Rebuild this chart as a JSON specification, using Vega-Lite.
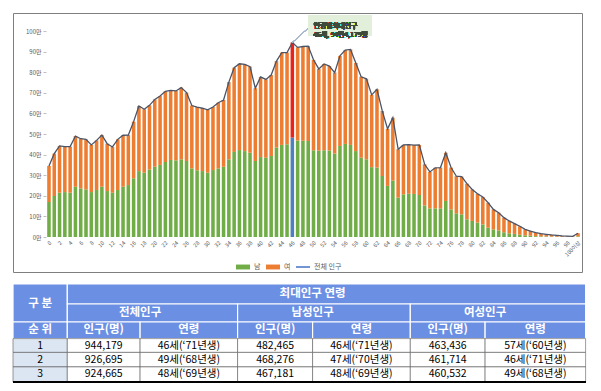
{
  "$schema": "https://vega.github.io/schema/vega-lite/v6.json",
  "background": "white",
  "padding": {"left": 12, "top": 12, "right": 0, "bottom": 0},
  "config": {"font": "Noto Sans CJK KR"},
  "bounds": "flush",
  "spacing": 12,
  "vconcat": [
    {
      "width": 569,
      "height": 259,
      "view": {"stroke": "#7f7f7f", "strokeWidth": 1},
      "data": {"values": [
        {"age":0,"sex":"남","pop":170000},{"age":0,"sex":"여","pop":175000},
        {"age":1,"sex":"남","pop":199000},{"age":1,"sex":"여","pop":206000},
        {"age":2,"sex":"남","pop":215000},{"age":2,"sex":"여","pop":227000},
        {"age":3,"sex":"남","pop":218000},{"age":3,"sex":"여","pop":221000},
        {"age":4,"sex":"남","pop":215000},{"age":4,"sex":"여","pop":224000},
        {"age":5,"sex":"남","pop":244000},{"age":5,"sex":"여","pop":246000},
        {"age":6,"sex":"남","pop":236000},{"age":6,"sex":"여","pop":241000},
        {"age":7,"sex":"남","pop":231000},{"age":7,"sex":"여","pop":243000},
        {"age":8,"sex":"남","pop":218000},{"age":8,"sex":"여","pop":229000},
        {"age":9,"sex":"남","pop":228000},{"age":9,"sex":"여","pop":241000},
        {"age":10,"sex":"남","pop":244000},{"age":10,"sex":"여","pop":251000},
        {"age":11,"sex":"남","pop":223000},{"age":11,"sex":"여","pop":230000},
        {"age":12,"sex":"남","pop":215000},{"age":12,"sex":"여","pop":222000},
        {"age":13,"sex":"남","pop":228000},{"age":13,"sex":"여","pop":246000},
        {"age":14,"sex":"남","pop":244000},{"age":14,"sex":"여","pop":250000},
        {"age":15,"sex":"남","pop":252000},{"age":15,"sex":"여","pop":243000},
        {"age":16,"sex":"남","pop":285000},{"age":16,"sex":"여","pop":275000},
        {"age":17,"sex":"남","pop":320000},{"age":17,"sex":"여","pop":316000},
        {"age":18,"sex":"남","pop":312000},{"age":18,"sex":"여","pop":308000},
        {"age":19,"sex":"남","pop":328000},{"age":19,"sex":"여","pop":311000},
        {"age":20,"sex":"남","pop":341000},{"age":20,"sex":"여","pop":327000},
        {"age":21,"sex":"남","pop":350000},{"age":21,"sex":"여","pop":334000},
        {"age":22,"sex":"남","pop":364000},{"age":22,"sex":"여","pop":343000},
        {"age":23,"sex":"남","pop":374000},{"age":23,"sex":"여","pop":338000},
        {"age":24,"sex":"남","pop":372000},{"age":24,"sex":"여","pop":337000},
        {"age":25,"sex":"남","pop":377000},{"age":25,"sex":"여","pop":348000},
        {"age":26,"sex":"남","pop":369000},{"age":26,"sex":"여","pop":332000},
        {"age":27,"sex":"남","pop":333000},{"age":27,"sex":"여","pop":305000},
        {"age":28,"sex":"남","pop":324000},{"age":28,"sex":"여","pop":307000},
        {"age":29,"sex":"남","pop":320000},{"age":29,"sex":"여","pop":305000},
        {"age":30,"sex":"남","pop":312000},{"age":30,"sex":"여","pop":305000},
        {"age":31,"sex":"남","pop":325000},{"age":31,"sex":"여","pop":306000},
        {"age":32,"sex":"남","pop":333000},{"age":32,"sex":"여","pop":319000},
        {"age":33,"sex":"남","pop":341000},{"age":33,"sex":"여","pop":324000},
        {"age":34,"sex":"남","pop":377000},{"age":34,"sex":"여","pop":375000},
        {"age":35,"sex":"남","pop":413000},{"age":35,"sex":"여","pop":409000},
        {"age":36,"sex":"남","pop":422000},{"age":36,"sex":"여","pop":419000},
        {"age":37,"sex":"남","pop":417000},{"age":37,"sex":"여","pop":421000},
        {"age":38,"sex":"남","pop":409000},{"age":38,"sex":"여","pop":418000},
        {"age":39,"sex":"남","pop":369000},{"age":39,"sex":"여","pop":353000},
        {"age":40,"sex":"남","pop":388000},{"age":40,"sex":"여","pop":389000},
        {"age":41,"sex":"남","pop":385000},{"age":41,"sex":"여","pop":380000},
        {"age":42,"sex":"남","pop":393000},{"age":42,"sex":"여","pop":393000},
        {"age":43,"sex":"남","pop":434000},{"age":43,"sex":"여","pop":420000},
        {"age":44,"sex":"남","pop":447000},{"age":44,"sex":"여","pop":448000},
        {"age":45,"sex":"남","pop":450000},{"age":45,"sex":"여","pop":445000},
        {"age":46,"sex":"남","pop":482465},{"age":46,"sex":"여","pop":461714},
        {"age":47,"sex":"남","pop":468276},{"age":47,"sex":"여","pop":452224},
        {"age":48,"sex":"남","pop":467181},{"age":48,"sex":"여","pop":457484},
        {"age":49,"sex":"남","pop":466163},{"age":49,"sex":"여","pop":460532},
        {"age":50,"sex":"남","pop":421000},{"age":50,"sex":"여","pop":439000},
        {"age":51,"sex":"남","pop":419000},{"age":51,"sex":"여","pop":397000},
        {"age":52,"sex":"남","pop":421000},{"age":52,"sex":"여","pop":419000},
        {"age":53,"sex":"남","pop":420000},{"age":53,"sex":"여","pop":410000},
        {"age":54,"sex":"남","pop":405000},{"age":54,"sex":"여","pop":393000},
        {"age":55,"sex":"남","pop":442000},{"age":55,"sex":"여","pop":437000},
        {"age":56,"sex":"남","pop":452000},{"age":56,"sex":"여","pop":455000},
        {"age":57,"sex":"남","pop":447000},{"age":57,"sex":"여","pop":463436},
        {"age":58,"sex":"남","pop":417000},{"age":58,"sex":"여","pop":428000},
        {"age":59,"sex":"남","pop":385000},{"age":59,"sex":"여","pop":393000},
        {"age":60,"sex":"남","pop":377000},{"age":60,"sex":"여","pop":391000},
        {"age":61,"sex":"남","pop":339000},{"age":61,"sex":"여","pop":351000},
        {"age":62,"sex":"남","pop":337000},{"age":62,"sex":"여","pop":380000},
        {"age":63,"sex":"남","pop":296000},{"age":63,"sex":"여","pop":316000},
        {"age":64,"sex":"남","pop":248000},{"age":64,"sex":"여","pop":277000},
        {"age":65,"sex":"남","pop":274000},{"age":65,"sex":"여","pop":305000},
        {"age":66,"sex":"남","pop":191000},{"age":66,"sex":"여","pop":235000},
        {"age":67,"sex":"남","pop":207000},{"age":67,"sex":"여","pop":240000},
        {"age":68,"sex":"남","pop":210000},{"age":68,"sex":"여","pop":238000},
        {"age":69,"sex":"남","pop":209000},{"age":69,"sex":"여","pop":237000},
        {"age":70,"sex":"남","pop":204000},{"age":70,"sex":"여","pop":243000},
        {"age":71,"sex":"남","pop":153000},{"age":71,"sex":"여","pop":200000},
        {"age":72,"sex":"남","pop":139000},{"age":72,"sex":"여","pop":177000},
        {"age":73,"sex":"남","pop":139000},{"age":73,"sex":"여","pop":197000},
        {"age":74,"sex":"남","pop":139000},{"age":74,"sex":"여","pop":198000},
        {"age":75,"sex":"남","pop":175000},{"age":75,"sex":"여","pop":234000},
        {"age":76,"sex":"남","pop":134000},{"age":76,"sex":"여","pop":203000},
        {"age":77,"sex":"남","pop":115000},{"age":77,"sex":"여","pop":180000},
        {"age":78,"sex":"남","pop":110000},{"age":78,"sex":"여","pop":183000},
        {"age":79,"sex":"남","pop":86000},{"age":79,"sex":"여","pop":173000},
        {"age":80,"sex":"남","pop":78000},{"age":80,"sex":"여","pop":153000},
        {"age":81,"sex":"남","pop":70000},{"age":81,"sex":"여","pop":140000},
        {"age":82,"sex":"남","pop":61000},{"age":82,"sex":"여","pop":133000},
        {"age":83,"sex":"남","pop":45000},{"age":83,"sex":"여","pop":122000},
        {"age":84,"sex":"남","pop":37000},{"age":84,"sex":"여","pop":97000},
        {"age":85,"sex":"남","pop":32000},{"age":85,"sex":"여","pop":86000},
        {"age":86,"sex":"남","pop":23000},{"age":86,"sex":"여","pop":71000},
        {"age":87,"sex":"남","pop":18000},{"age":87,"sex":"여","pop":60000},
        {"age":88,"sex":"남","pop":15000},{"age":88,"sex":"여","pop":50000},
        {"age":89,"sex":"남","pop":11000},{"age":89,"sex":"여","pop":41000},
        {"age":90,"sex":"남","pop":8000},{"age":90,"sex":"여","pop":29000},
        {"age":91,"sex":"남","pop":6000},{"age":91,"sex":"여","pop":23000},
        {"age":92,"sex":"남","pop":4000},{"age":92,"sex":"여","pop":17000},
        {"age":93,"sex":"남","pop":3000},{"age":93,"sex":"여","pop":13000},
        {"age":94,"sex":"남","pop":2500},{"age":94,"sex":"여","pop":10500},
        {"age":95,"sex":"남","pop":2000},{"age":95,"sex":"여","pop":8000},
        {"age":96,"sex":"남","pop":1500},{"age":96,"sex":"여","pop":6500},
        {"age":97,"sex":"남","pop":1000},{"age":97,"sex":"여","pop":4000},
        {"age":98,"sex":"남","pop":800},{"age":98,"sex":"여","pop":3200},
        {"age":99,"sex":"남","pop":600},{"age":99,"sex":"여","pop":2400},
        {"age":100,"sex":"남","pop":3000},{"age":100,"sex":"여","pop":15000}
      ]},
      "layer": [
        {
          "mark": {"type": "bar"},
          "encoding": {
            "x": {
              "field": "age", "type": "ordinal",
              "scale": {"paddingInner": 0.33, "paddingOuter": 0, "align": 0.5, "range": [34.2, 566.8]},
              "axis": {
                "title": null, "orient": "bottom", "offset": -35,
                "values": [0,2,4,6,8,10,12,14,16,18,20,22,24,26,28,30,32,34,36,38,40,42,44,46,48,50,52,54,56,58,60,62,64,66,68,70,72,74,76,78,80,82,84,86,88,90,92,94,96,98,100],
                "labelExpr": "datum.value == 100 ? '100이상' : datum.label",
                "labelAngle": -45, "labelFontSize": 5.5, "labelColor": "#595959",
                "labelPadding": 3, "labelOverlap": false, "domain": false, "ticks": false, "grid": false
              }
            },
            "y": {
              "field": "pop", "type": "quantitative", "stack": "zero",
              "scale": {"domain": [-169903, 1087379], "nice": false, "zero": false},
              "axis": {
                "title": null, "offset": -33,
                "values": [0,100000,200000,300000,400000,500000,600000,700000,800000,900000,1000000],
                "labelExpr": "(datum.value / 10000) + '만'",
                "labelFontSize": 6, "labelColor": "#595959", "labelPadding": 2, "labelOverlap": false,
                "domain": false, "ticks": true, "tickColor": "#bfbfbf", "tickSize": 3, "grid": false
              }
            },
            "order": {"field": "sex", "type": "nominal", "sort": "ascending"},
            "color": {
              "field": "sex", "type": "nominal",
              "scale": {"domain": ["남", "여", "전체 인구"], "range": ["#70ad47", "#ed7d31", "#4472c4"]},
              "condition": [
                {"test": "datum.age === 46 && datum.sex === '남'", "value": "#4f7fbd"},
                {"test": "datum.age === 46 && datum.sex === '여'", "value": "#e8231b"}
              ],
              "legend": {
                "title": null, "orient": "none", "legendX": 222, "legendY": 246,
                "direction": "horizontal", "gridAlign": "none", "labelFontSize": 7, "labelColor": "#595959",
                "symbolSize": 196, "columnPadding": 2, "labelOffset": 3,
                "encode": {
                  "symbols": {
                    "update": {
                      "shape": {"signal": "datum.label === '전체 인구' ? 'M-1,0H1' : 'M-1,-0.35H1V0.35H-1Z'"},
                      "fill": {"signal": "datum.label === '남' ? '#70ad47' : datum.label === '여' ? '#ed7d31' : 'transparent'"},
                      "stroke": {"signal": "datum.label === '전체 인구' ? '#4472c4' : 'transparent'"},
                      "strokeWidth": {"value": 1.5},
                      "opacity": {"value": 1}
                    }
                  }
                }
              }
            }
          }
        },
        {
          "transform": [{"aggregate": [{"op": "sum", "field": "pop", "as": "total"}], "groupby": ["age"]}],
          "mark": {"type": "line", "color": "#4a5466", "strokeWidth": 1.3},
          "encoding": {
            "x": {"field": "age", "type": "ordinal"},
            "y": {
              "field": "total", "type": "quantitative",
              "axis": {
                "title": null, "offset": -33,
                "values": [0,100000,200000,300000,400000,500000,600000,700000,800000,900000,1000000],
                "labelExpr": "(datum.value / 10000) + '만'",
                "labelFontSize": 6, "labelColor": "#595959", "labelPadding": 2, "labelOverlap": false,
                "domain": false, "ticks": true, "tickColor": "#bfbfbf", "tickSize": 3, "grid": false
              }
            }
          }
        },
        {
          "mark": {"type": "rule", "color": "#a9b8cc", "strokeWidth": 0.7},
          "encoding": {
            "x": {"datum": 46, "type": "ordinal"},
            "y": {"datum": 944179, "type": "quantitative", "axis": {
                "title": null, "offset": -33,
                "values": [0,100000,200000,300000,400000,500000,600000,700000,800000,900000,1000000],
                "labelExpr": "(datum.value / 10000) + '만'",
                "labelFontSize": 6, "labelColor": "#595959", "labelPadding": 2, "labelOverlap": false,
                "domain": false, "ticks": true, "tickColor": "#bfbfbf", "tickSize": 3, "grid": false
              }},
            "x2": {"datum": 49},
            "y2": {"datum": 1014000}
          }
        },
        {
          "mark": {"type": "rect", "fill": "#e2efda"},
          "encoding": {
            "x": {"datum": 49, "type": "ordinal", "bandPosition": 0.5},
            "x2": {"datum": 61, "bandPosition": 0.5},
            "y": {"datum": 1077700, "type": "quantitative", "axis": {
                "title": null, "offset": -33,
                "values": [0,100000,200000,300000,400000,500000,600000,700000,800000,900000,1000000],
                "labelExpr": "(datum.value / 10000) + '만'",
                "labelFontSize": 6, "labelColor": "#595959", "labelPadding": 2, "labelOverlap": false,
                "domain": false, "ticks": true, "tickColor": "#bfbfbf", "tickSize": 3, "grid": false
              }},
            "y2": {"datum": 975700}
          }
        },
        {
          "mark": {"type": "text", "text": ["연령별최대인구", "46세, 94만4,179명"], "align": "left", "baseline": "middle", "fontSize": 6.8, "lineHeight": 8.8, "color": "#3f4a3a"},
          "encoding": {
            "x": {"datum": 50, "type": "ordinal"},
            "y": {"datum": 1024000, "type": "quantitative", "axis": {
                "title": null, "offset": -33,
                "values": [0,100000,200000,300000,400000,500000,600000,700000,800000,900000,1000000],
                "labelExpr": "(datum.value / 10000) + '만'",
                "labelFontSize": 6, "labelColor": "#595959", "labelPadding": 2, "labelOverlap": false,
                "domain": false, "ticks": true, "tickColor": "#bfbfbf", "tickSize": 3, "grid": false
              }}
          }
        }
      ]
    },
    {
      "width": 573,
      "height": 98,
      "view": {"stroke": null},
      "data": {"values": [
        {"text": "구 분", "part": "header", "c1": 0, "c2": 1, "r1": 0, "r2": 2},
        {"text": "최대인구 연령", "part": "header", "c1": 1, "c2": 7, "r1": 0, "r2": 1},
        {"text": "전체인구", "part": "header", "c1": 1, "c2": 3, "r1": 1, "r2": 2},
        {"text": "남성인구", "part": "header", "c1": 3, "c2": 5, "r1": 1, "r2": 2},
        {"text": "여성인구", "part": "header", "c1": 5, "c2": 7, "r1": 1, "r2": 2},
        {"text": "순 위", "part": "header", "c1": 0, "c2": 1, "r1": 2, "r2": 3},
        {"text": "인구(명)", "part": "header", "c1": 1, "c2": 2, "r1": 2, "r2": 3},
        {"text": "연령", "part": "header", "c1": 2, "c2": 3, "r1": 2, "r2": 3},
        {"text": "인구(명)", "part": "header", "c1": 3, "c2": 4, "r1": 2, "r2": 3},
        {"text": "연령", "part": "header", "c1": 4, "c2": 5, "r1": 2, "r2": 3},
        {"text": "인구(명)", "part": "header", "c1": 5, "c2": 6, "r1": 2, "r2": 3},
        {"text": "연령", "part": "header", "c1": 6, "c2": 7, "r1": 2, "r2": 3},
        {"text": "1", "part": "rank", "c1": 0, "c2": 1, "r1": 3, "r2": 4},
        {"text": "944,179", "part": "data", "c1": 1, "c2": 2, "r1": 3, "r2": 4},
        {"text": "46세(‘71년생)", "part": "data", "c1": 2, "c2": 3, "r1": 3, "r2": 4},
        {"text": "482,465", "part": "data", "c1": 3, "c2": 4, "r1": 3, "r2": 4},
        {"text": "46세(‘71년생)", "part": "data", "c1": 4, "c2": 5, "r1": 3, "r2": 4},
        {"text": "463,436", "part": "data", "c1": 5, "c2": 6, "r1": 3, "r2": 4},
        {"text": "57세(‘60년생)", "part": "data", "c1": 6, "c2": 7, "r1": 3, "r2": 4},
        {"text": "2", "part": "rank", "c1": 0, "c2": 1, "r1": 4, "r2": 5},
        {"text": "926,695", "part": "data", "c1": 1, "c2": 2, "r1": 4, "r2": 5},
        {"text": "49세(‘68년생)", "part": "data", "c1": 2, "c2": 3, "r1": 4, "r2": 5},
        {"text": "468,276", "part": "data", "c1": 3, "c2": 4, "r1": 4, "r2": 5},
        {"text": "47세(‘70년생)", "part": "data", "c1": 4, "c2": 5, "r1": 4, "r2": 5},
        {"text": "461,714", "part": "data", "c1": 5, "c2": 6, "r1": 4, "r2": 5},
        {"text": "46세(‘71년생)", "part": "data", "c1": 6, "c2": 7, "r1": 4, "r2": 5},
        {"text": "3", "part": "rank", "c1": 0, "c2": 1, "r1": 5, "r2": 6},
        {"text": "924,665", "part": "data", "c1": 1, "c2": 2, "r1": 5, "r2": 6},
        {"text": "48세(‘69년생)", "part": "data", "c1": 2, "c2": 3, "r1": 5, "r2": 6},
        {"text": "467,181", "part": "data", "c1": 3, "c2": 4, "r1": 5, "r2": 6},
        {"text": "48세(‘69년생)", "part": "data", "c1": 4, "c2": 5, "r1": 5, "r2": 6},
        {"text": "460,532", "part": "data", "c1": 5, "c2": 6, "r1": 5, "r2": 6},
        {"text": "49세(‘68년생)", "part": "data", "c1": 6, "c2": 7, "r1": 5, "r2": 6}
      ]},
      "layer": [
        {
          "mark": {"type": "rect", "strokeWidth": 1},
          "encoding": {
            "x": {"field": "c1", "type": "quantitative",
                  "scale": {"domain": [0,1,2,3,4,5,6,7], "range": [0,54.3,127.1,224.6,299.6,397.3,472.1,572.6], "nice": false, "zero": false},
                  "axis": null},
            "x2": {"field": "c2"},
            "y": {"field": "r1", "type": "quantitative",
                  "scale": {"domain": [0,1,2,3,4,5,6], "range": [0,20,38,54.6,68.4,82.9,98], "nice": false, "zero": false},
                  "axis": null},
            "y2": {"field": "r2"},
            "fill": {"condition": [
              {"test": "datum.part === 'header'", "value": "#6b8fe3"},
              {"test": "datum.part === 'rank'", "value": "#dce6f2"}
            ], "value": "#ffffff"},
            "stroke": {"condition": {"test": "datum.part === 'header'", "value": "#ffffff"}, "value": "#595959"},
            "strokeWidth": {"condition": {"test": "datum.part === 'header'", "value": 1.2}, "value": 0.6}
          }
        },
        {
          "mark": {"type": "rule", "color": "#000000", "strokeWidth": 2},
          "encoding": {
            "x": {"datum": 0, "type": "quantitative"},
            "x2": {"datum": 7},
            "y": {"datum": 6, "type": "quantitative"}
          }
        },
        {
          "transform": [
            {"filter": "datum.part === 'header'"},
            {"fold": ["c1", "c2"], "as": ["ck", "cv"]},
            {"fold": ["r1", "r2"], "as": ["rk", "rv"]},
            {"aggregate": [{"op": "mean", "field": "cv", "as": "cx"}, {"op": "mean", "field": "rv", "as": "cy"}], "groupby": ["c1", "r1", "text"]}
          ],
          "mark": {"type": "text", "fontSize": 11.5, "fontWeight": "bold", "color": "#ffffff", "baseline": "middle"},
          "encoding": {
            "x": {"field": "cx", "type": "quantitative"},
            "y": {"field": "cy", "type": "quantitative"},
            "text": {"field": "text"}
          }
        },
        {
          "transform": [
            {"filter": "datum.part !== 'header'"},
            {"fold": ["c1", "c2"], "as": ["ck", "cv"]},
            {"fold": ["r1", "r2"], "as": ["rk", "rv"]},
            {"aggregate": [{"op": "mean", "field": "cv", "as": "cx"}, {"op": "mean", "field": "rv", "as": "cy"}], "groupby": ["c1", "r1", "text"]}
          ],
          "mark": {"type": "text", "fontSize": 10.5, "color": "#000000", "baseline": "middle"},
          "encoding": {
            "x": {"field": "cx", "type": "quantitative"},
            "y": {"field": "cy", "type": "quantitative"},
            "text": {"field": "text"}
          }
        }
      ]
    }
  ]
}
